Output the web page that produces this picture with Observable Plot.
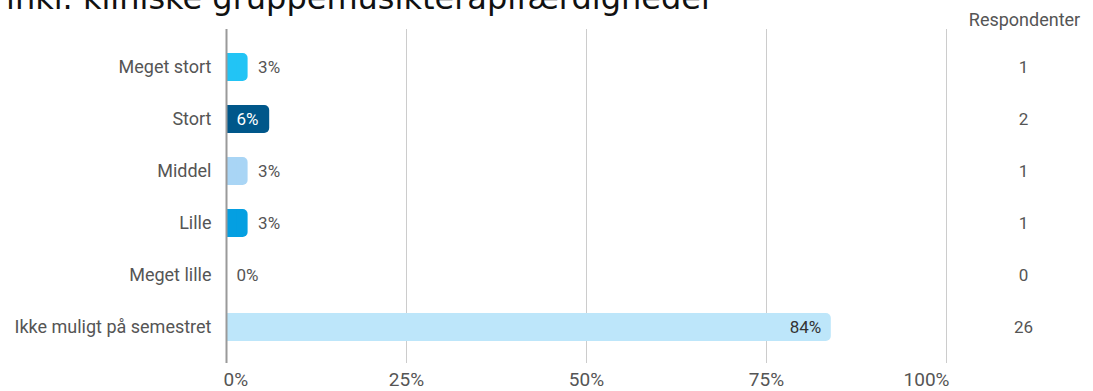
<!DOCTYPE html>
<html><head><meta charset="utf-8">
<script src="https://cdn.jsdelivr.net/npm/d3@7"></script>
<script src="https://cdn.jsdelivr.net/npm/@observablehq/plot@0.6"></script>
<style>
body{margin:0;background:#fff;}
#wrap{position:relative;width:1093px;height:391px;overflow:hidden;}
#title{position:absolute;left:6px;top:-22px;font-family:"DejaVu Sans";font-size:32px;line-height:40px;white-space:nowrap;color:#111;}
</style></head><body>
<div id="wrap"><div id="title">inkl. kliniske gruppemusikterapifærdigheder</div><div id="chart"></div></div>
<script>
const categories = ["Meget stort", "Stort", "Middel", "Lille", "Meget lille", "Ikke muligt på semestret"];
const percents = [3, 6, 3, 3, 0, 84];
const respondents = [1, 2, 1, 1, 0, 26];
const colors = ["#22c4f5", "#00578a", "#a9d5f5", "#049fe1", "#cccccc", "#bde6fa"];
const xTicks = [0, 25, 50, 75, 100];
const columnHeader = "Respondenter";

const rows = categories.map((c, i) => ({cat: c, pct: percents[i], n: respondents[i], color: colors[i]}));
const isDark = d => d3.hsl(d.color).l < 0.4;
const inEnd = rows.filter(d => d.pct > 50);
const inStart = rows.filter(d => d.pct <= 50 && isDark(d));
const outside = rows.filter(d => d.pct <= 50 && !isDark(d));
const fmt = d => d + "%";

const chart = Plot.plot({
  width: 1093,
  height: 391,
  marginLeft: 226,
  marginRight: 147,
  marginTop: 29,
  marginBottom: 28,
  style: {fontFamily: "Roboto", fontSize: "16px", color: "#555", background: "transparent"},
  x: {domain: [0, 100], axis: null},
  y: {type: "band", domain: categories, range: [27, 367], paddingInner: 24 / 52, paddingOuter: 0.5, round: false, axis: null},
  color: {domain: categories, range: colors},
  marks: [
    Plot.ruleX(xTicks.slice(1), {x: d => d, stroke: "#cccccc", strokeWidth: 1}),
    Plot.barX(rows, {x1: 0, x2: "pct", y: "cat", fill: "cat", rx: 5}),
    Plot.barX(rows, {x1: 0, x2: d => d.pct / 2, y: "cat", fill: "cat"}),
    Plot.ruleX([0], {stroke: "#9a9a9a", strokeWidth: 2}),
    Plot.axisY({tickSize: 0, tickPadding: 15, fontSize: 18, fill: "#555", label: null}),
    Plot.text(outside, {x: "pct", y: "cat", text: d => fmt(d.pct), textAnchor: "start", dx: 10, fill: "#555", fontSize: 17}),
    Plot.text(inStart, {x: 0, y: "cat", text: d => fmt(d.pct), textAnchor: "start", dx: 10, fill: "#fff", fontSize: 17}),
    Plot.text(inEnd, {x: "pct", y: "cat", text: d => fmt(d.pct), textAnchor: "end", dx: -10, fill: "#333", fontSize: 17}),
    Plot.text(rows, {y: "cat", text: d => String(d.n), frameAnchor: "right", dx: 77, textAnchor: "middle", fill: "#555", fontSize: 17}),
    Plot.text([columnHeader], {text: d => d, frameAnchor: "top-right", dx: 78, dy: -9, textAnchor: "middle", lineAnchor: "middle", fill: "#555", fontSize: 18}),
    Plot.text(xTicks.slice(0, 1), {x: d => d, text: fmt, frameAnchor: "bottom", dy: 16, lineAnchor: "middle", textAnchor: "start", dx: -3, fill: "#555", fontSize: 19}),
    Plot.text(xTicks.slice(1, -1), {x: d => d, text: fmt, frameAnchor: "bottom", dy: 16, lineAnchor: "middle", textAnchor: "middle", fill: "#555", fontSize: 19}),
    Plot.text(xTicks.slice(-1), {x: d => d, text: fmt, frameAnchor: "bottom", dy: 16, lineAnchor: "middle", textAnchor: "end", dx: 3, fill: "#555", fontSize: 19})
  ]
});
document.getElementById("chart").appendChild(chart);
</script>
</body></html>
